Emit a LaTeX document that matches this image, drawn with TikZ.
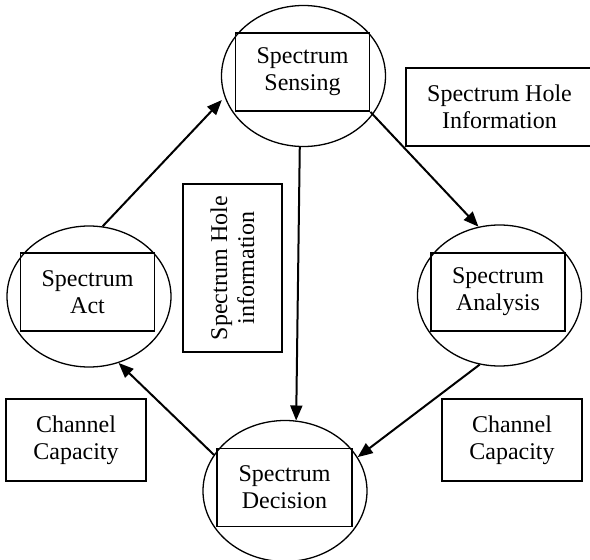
\documentclass[tikz,border=0pt]{standalone}
\usepackage{fontspec}
\setmainfont{Liberation Serif}
\usetikzlibrary{shapes.geometric, arrows.meta}
\tikzset{
  ring/.style={ellipse, draw, line width=1.3pt, minimum width=164pt, minimum height=141pt, inner sep=0pt},
  stagebox/.style={rectangle, draw, line width=1.8pt, minimum width=134pt, minimum height=78pt, inner sep=0pt, align=center},
  infobox/.style={rectangle, draw, line width=1.8pt, inner sep=0pt, align=center},
  flow/.style={line width=2pt, -{Triangle[length=15pt, width=12pt]}}
}

\begin{document}
\begin{tikzpicture}[x=1pt, y=-1pt, font=\fontsize{24}{27}\selectfont]
                \useasboundingbox (0,0) rectangle (590,560);

                % The four stages
                \node[ring] (sensing) at (303.5,76) {};
                \node[stagebox] (sensingbox) at (302.5,72) {Spectrum\\Sensing};

                \node[ring] (analysis) at (499.5,295.5) {};
                \node[stagebox] (analysisbox) at (498,292) {Spectrum\\Analysis};

                \node[ring] (decision) at (285,491) {};
                \node[stagebox, minimum width=135pt] (decisionbox) at (284.5,487.5) {Spectrum\\Decision};

                \node[ring] (act) at (89,296.5) {};
                \node[stagebox] (actbox) at (87.5,292) {Spectrum\\Act};

                % Information passed between stages
                \node[infobox, minimum width=187pt, minimum height=78pt] (holeinfo) at (499.5,107) {Spectrum Hole\\Information};
                \node[infobox, rotate=90, minimum width=168pt, minimum height=99pt] (holevert) at (232.5,268) {Spectrum Hole\\information};
                \node[infobox, minimum width=140pt, minimum height=82pt] (capleft) at (76,440) {Channel\\Capacity};
                \node[infobox, minimum width=140pt, minimum height=82pt] (capright) at (512,440) {Channel\\Capacity};

                % Cycle arrows
                \draw[flow] (sensingbox.south east) -- (analysis.107);
                \draw[flow] (sensing.267) -- (decision.81);
                \draw[flow] (analysis.254) -- (decision.25);
                \draw[flow] (decision.153) -- (act.294);
                \draw[flow, shorten >=4pt] (act.79) -- (sensing.195);
            \end{tikzpicture}
\end{document}
